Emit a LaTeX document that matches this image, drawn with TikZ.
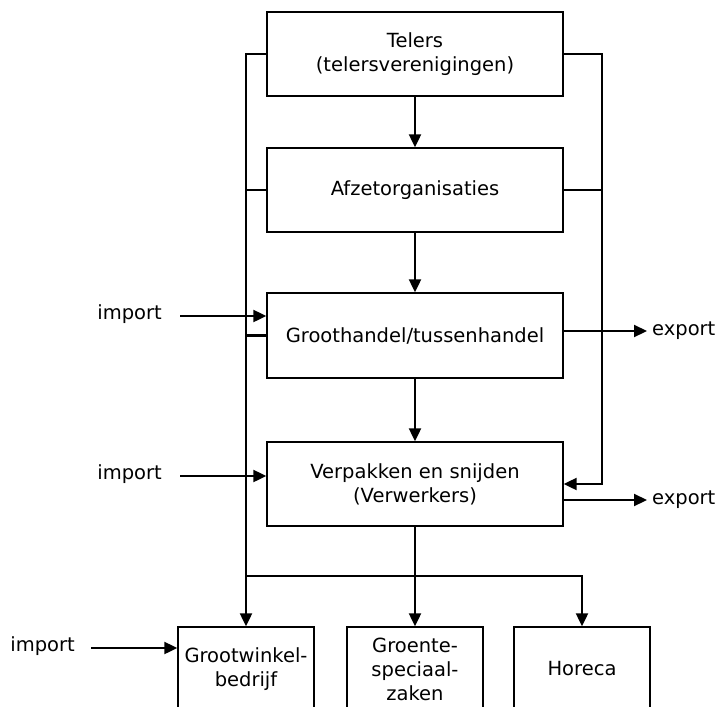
\documentclass[tikz,border=0pt]{standalone}
\usepackage{fontspec}
\setmainfont{DejaVu Sans}
\usetikzlibrary{arrows.meta,positioning}

\begin{document}
\begin{tikzpicture}[
    x=1pt, y=-1pt,
    every node/.style={font=\fontsize{19.5}{24}\selectfont},
    box/.style={rectangle, draw, line width=1.4pt, minimum width=296pt,
                minimum height=84pt, align=center, inner sep=0pt},
    shop/.style={rectangle, draw, line width=1.4pt, minimum width=136pt,
                 minimum height=84pt, align=center, inner sep=0pt},
    lbl/.style={inner sep=0pt},
    link/.style={line width=2.2pt},
    arrow/.style={-{Triangle[length=13pt,width=12pt]}, line width=2.2pt}
]
\useasboundingbox (0,0) rectangle (718,707);
\clip (0,0) rectangle (718,707);

% Chain
\node[box] (telers) at (415,54) {Telers\\(telersverenigingen)};
\node[box] (afzet) at (415,190) {Afzetorganisaties};
\node[box, minimum height=85pt] (groothandel) at (415,335.5) {Groothandel/tussenhandel};
\node[box] (verpakken) at (415,484) {Verpakken en snijden\\(Verwerkers)};

% Outlets
\node[shop] (grootwinkel) at (246,669) {Grootwinkel-\\bedrijf};
\node[shop] (groente) at (415,669) {Groente-\\speciaal-\\zaken};
\node[shop] (horeca) at (582,669) {Horeca};

\coordinate (rgt) at (602,53);
\coordinate (bus) at (0,576);

% Arrows down
\draw[arrow] (telers) -- (afzet);
\draw[arrow] (afzet) -- (groothandel);
\draw[arrow] (groothandel) -- (verpakken);
\draw[arrow] (verpakken) -- (groente);

% Left bypass
\draw[arrow] (telers.west) -- (telers.west -| grootwinkel.north) -- (grootwinkel.north);
\draw[link] (afzet.west) -- (afzet.west -| grootwinkel.north);
\draw[link] (groothandel.west) -- (groothandel.west -| grootwinkel.north);

% Right bypass
\draw[arrow] (telers.east) -- (telers.east -| rgt) -- (verpakken.east -| rgt) -- (verpakken.east);
\draw[link] (afzet.east) -- (afzet.east -| rgt);

% Bus to outlets
\draw[arrow] (bus -| grootwinkel.north) -- (bus -| horeca.north) -- (horeca.north);

% Import / export
\node[lbl, anchor=base east] (impA) at (162,319) {import};
\node[lbl, anchor=base east] (impB) at (162,479) {import};
\node[lbl, anchor=base east] (impC) at (75,651) {import};
\node[lbl, anchor=base west] (expA) at (652,335) {export};
\node[lbl, anchor=base west] (expB) at (652,504) {export};

\draw[arrow] ([xshift=18pt,yshift=3pt]impA.base east) -- ([yshift=3pt]impA.base -| groothandel.west);
\draw[arrow] ([xshift=18pt,yshift=3pt]impB.base east) -- ([yshift=3pt]impB.base -| verpakken.west);
\draw[arrow] ([xshift=16pt,yshift=3pt]impC.base east) -- ([yshift=3pt]impC.base -| grootwinkel.west);
\draw[arrow] ([yshift=4pt]expA.base -| groothandel.east) -- ([xshift=-5pt,yshift=4pt]expA.base west);
\draw[arrow] ([yshift=4pt]expB.base -| verpakken.east) -- ([xshift=-5pt,yshift=4pt]expB.base west);

\end{tikzpicture}
\end{document}
